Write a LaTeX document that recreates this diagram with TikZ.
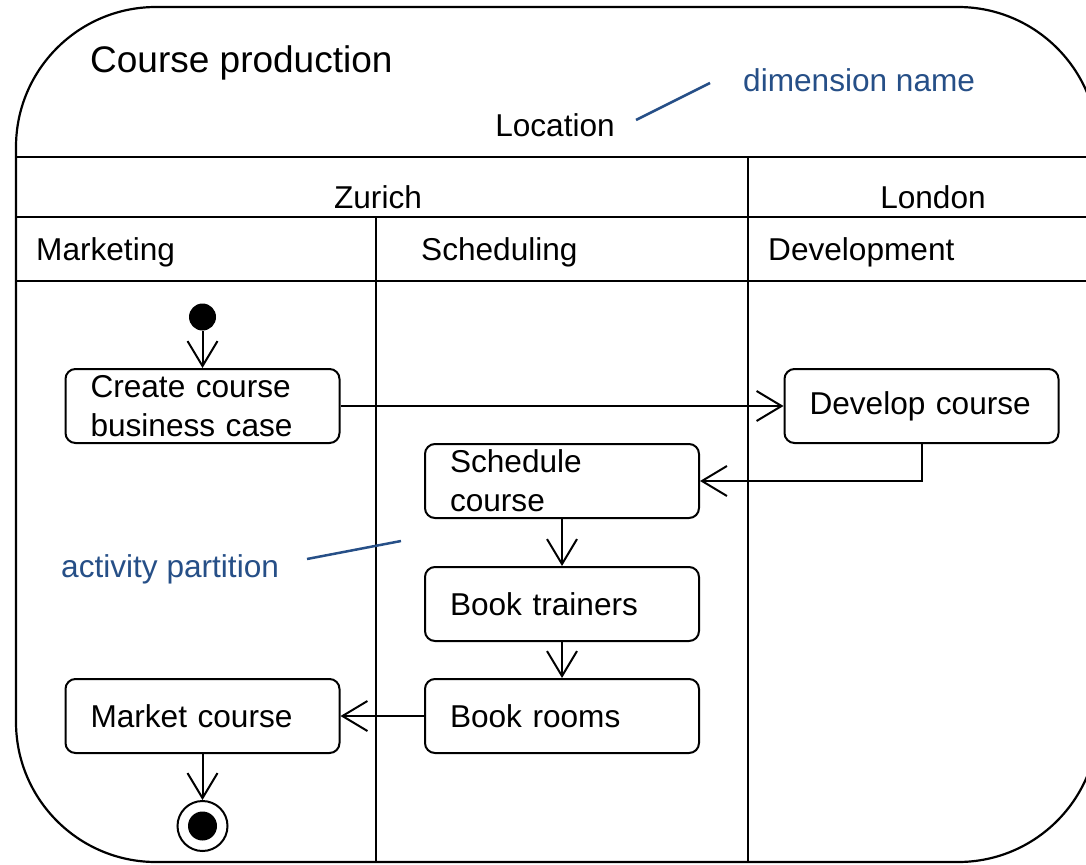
\documentclass[tikz,border=0pt]{standalone}
\usepackage{fontspec}
\setmainfont{Liberation Sans}
\usetikzlibrary{arrows.meta}
\definecolor{annot}{RGB}{38,79,135}
\begin{document}
\begin{tikzpicture}[x=1pt,y=-1pt,
  frame/.style={line width=2.2pt},
  act/.style={draw, line width=2pt, rounded corners=10pt, minimum width=274pt,
    minimum height=74pt, text width=224pt, align=left, inner xsep=25pt, inner ysep=0pt,
    font=\fontsize{31.6}{39}\selectfont},
  flow/.style={line width=2pt, -{Straight Barb[length=25pt,width=30pt]}},
  txt/.style={font=\fontsize{31.6}{39}\selectfont, inner sep=0pt},
  note/.style={txt, text=annot},
  noteline/.style={draw=annot, line width=2.5pt}]
\useasboundingbox (0,0) rectangle (1086,864);
\clip (0,0) rectangle (1086,864);
% frame and partitions
\draw[frame, rounded corners=140pt] (16,7) rectangle (1098,862);
\draw[frame] (16,157) -- (1098,157);
\draw[frame] (16,217) -- (1098,217);
\draw[frame] (16,281) -- (1098,281);
\draw[frame] (376,217) -- (376,862);
\draw[frame] (748,157) -- (748,862);
% headings
\node[txt, font=\fontsize{37}{44}\selectfont, anchor=base west] (title) at (90,73) {Course production};
\node[txt, anchor=base] (loc) at (555,136) {Location};
\node[note, anchor=base west] (dimname) at (743,92) {dimension name};
\node[txt, anchor=base] (zurich) at (378,208) {Zurich};
\node[txt, anchor=base] (london) at (933,208) {London};
\node[txt, anchor=base west] (mkt) at (36,260) {Marketing};
\node[txt, anchor=base west] (sch) at (421,260) {Scheduling};
\node[txt, anchor=base west] (dev) at (768,260) {Development};
\node[note, anchor=base west] (actpart) at (61,577) {activity partition};
\coordinate (dn1) at (636,120);
\coordinate (dn2) at (710,83);
\coordinate (ap1) at (307,559);
\coordinate (ap2) at (401,541);
\draw[noteline] (dn1) -- (dn2);
\draw[noteline] (ap1) -- (ap2);
% activities
\node[act] (create) at (202.5,406) {Create course\\business case};
\node[act] (develop) at (921.5,406) {Develop course};
\node[act] (schedule) at (562,481) {Schedule\\course};
\node[act] (trainers) at (562,604) {Book trainers};
\node[act] (rooms) at (562,716) {Book rooms};
\node[act] (market) at (202.5,716) {Market course};
\node[circle, fill, minimum size=27pt, inner sep=0pt] (init) at (202.5,317) {};
\node[circle, draw, line width=2pt, minimum size=50pt, inner sep=0pt] (final) at (202.5,826) {};
\node[circle, fill, minimum size=29pt, inner sep=0pt] (finaldot) at (202.5,826) {};
% flows
\draw[flow] (init.south) -- (create.north);
\draw[flow] (create.east) -- (develop.west);
\draw[flow] (develop.south) |- (schedule.east);
\draw[flow] (schedule.south) -- (trainers.north);
\draw[flow] (trainers.south) -- (rooms.north);
\draw[flow] (rooms.west) -- (market.east);
\draw[flow] (market.south) -- (final.north);
\end{tikzpicture}
\end{document}
